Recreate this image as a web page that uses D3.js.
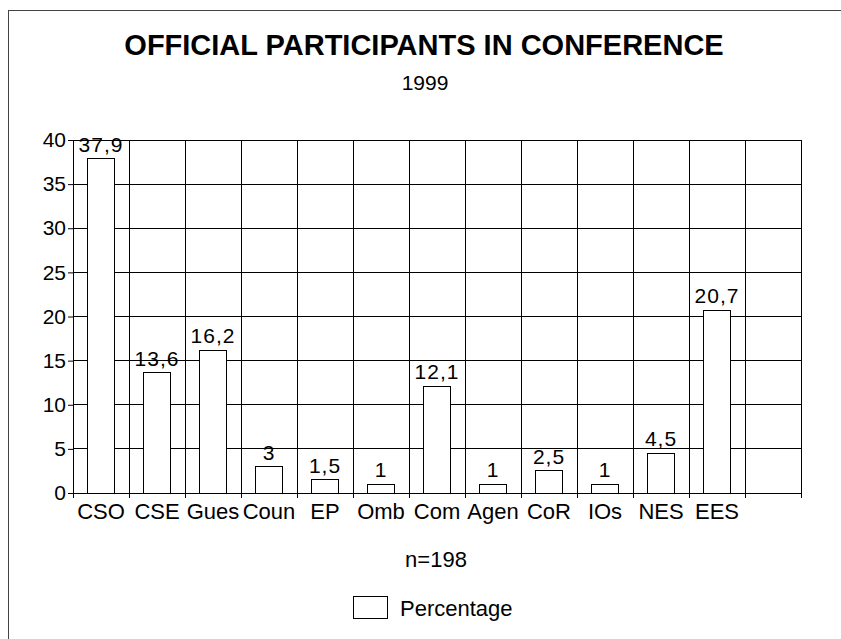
<!DOCTYPE html>
<html>
<head>
<meta charset="utf-8">
<script src="https://cdn.jsdelivr.net/npm/d3@7/dist/d3.min.js"></script>
<style>
  html, body { margin: 0; padding: 0; background: #fff; }
  svg { display: block; font-family: "Liberation Sans", Arial, sans-serif; }
</style>
</head>
<body>
<svg id="chart" width="841" height="639"></svg>
<script>
// Participant groups (short codes) and their share in percent
const categories = ["CSO", "CSE", "Gues", "Coun", "EP", "Omb", "Com", "Agen", "CoR", "IOs", "NES", "EES"];
const percentages = [37.9, 13.6, 16.2, 3, 1.5, 1, 12.1, 1, 2.5, 1, 4.5, 20.7];
const valueLabels = ["37,9", "13,6", "16,2", "3", "1,5", "1", "12,1", "1", "2,5", "1", "4,5", "20,7"];
const yTicks = [0, 5, 10, 15, 20, 25, 30, 35, 40];
const slots = categories.concat([""]); // one empty slot at the right end

const svg = d3.select("#chart");
const fontSize = 22;

// outer frame
svg.append("rect")
  .attr("x", 8.5).attr("y", 10.5)
  .attr("width", 900).attr("height", 700)
  .attr("fill", "none").attr("stroke", "#444").attr("stroke-width", 1);

const plotLeft = 73, plotRight = 801, plotTop = 140, plotBottom = 493;

const x = d3.scaleBand().domain(slots.map((d, i) => i)).range([plotLeft, plotRight]).padding(0);
const y = d3.scaleLinear().domain([0, 40]).range([plotBottom, plotTop]);

// titles
svg.append("text")
  .attr("x", 424).attr("y", 55)
  .attr("text-anchor", "middle")
  .attr("font-size", 29).attr("font-weight", "bold")
  .text("OFFICIAL PARTICIPANTS IN CONFERENCE");
svg.append("text")
  .attr("x", 425).attr("y", 90)
  .attr("text-anchor", "middle")
  .attr("font-size", 21)
  .text("1999");

// horizontal gridlines
const grid = svg.append("g").attr("stroke", "#000").attr("stroke-width", 1).attr("shape-rendering", "crispEdges");
grid.selectAll("line.h").data(yTicks).join("line")
  .attr("class", "h")
  .attr("x1", plotLeft).attr("x2", plotRight)
  .attr("y1", d => y(d)).attr("y2", d => y(d));
// vertical gridlines at slot boundaries
const boundaries = slots.map((d, i) => x(i)).concat([plotRight]);
grid.selectAll("line.v").data(boundaries).join("line")
  .attr("class", "v")
  .attr("x1", d => d).attr("x2", d => d)
  .attr("y1", plotTop).attr("y2", plotBottom + 5);

// y axis
const yAxis = d3.axisLeft(y).tickValues(yTicks).tickSize(5).tickPadding(2);
const gy = svg.append("g").attr("transform", `translate(${plotLeft},0)`).call(yAxis);
gy.select(".domain").attr("stroke", "#000");
gy.selectAll(".tick line").attr("stroke", "#000");
gy.selectAll(".tick text")
  .attr("font-size", 21).attr("font-family", "Liberation Sans, Arial, sans-serif")
  .attr("fill", "#000");

// bars
const barW = 27;
svg.append("g").selectAll("rect").data(percentages).join("rect")
  .attr("x", (d, i) => x(i) + x.bandwidth() / 2 - barW / 2)
  .attr("width", barW)
  .attr("y", d => y(d))
  .attr("height", d => y(0) - y(d))
  .attr("fill", "#fff").attr("stroke", "#000").attr("stroke-width", 1)
  .attr("shape-rendering", "crispEdges");

// value labels
svg.append("g").selectAll("text").data(percentages).join("text")
  .attr("x", (d, i) => x(i) + x.bandwidth() / 2)
  .attr("y", d => y(d) - 7)
  .attr("text-anchor", "middle")
  .attr("font-size", 21).attr("letter-spacing", 1)
  .text((d, i) => valueLabels[i]);

// x axis line and category labels
svg.append("line")
  .attr("x1", plotLeft).attr("x2", plotRight).attr("y1", plotBottom).attr("y2", plotBottom)
  .attr("stroke", "#000").attr("shape-rendering", "crispEdges");
svg.append("g").selectAll("text").data(categories).join("text")
  .attr("x", (d, i) => x(i) + x.bandwidth() / 2)
  .attr("y", 519)
  .attr("text-anchor", "middle")
  .attr("font-size", fontSize)
  .text(d => d);

// sample size note
svg.append("text")
  .attr("x", 436).attr("y", 567)
  .attr("text-anchor", "middle")
  .attr("font-size", fontSize)
  .text("n=198");

// legend
svg.append("rect")
  .attr("x", 353.5).attr("y", 596.5).attr("width", 34).attr("height", 22)
  .attr("fill", "#fff").attr("stroke", "#000");
svg.append("text")
  .attr("x", 400).attr("y", 616)
  .attr("font-size", fontSize)
  .text("Percentage");
</script>
</body>
</html>
